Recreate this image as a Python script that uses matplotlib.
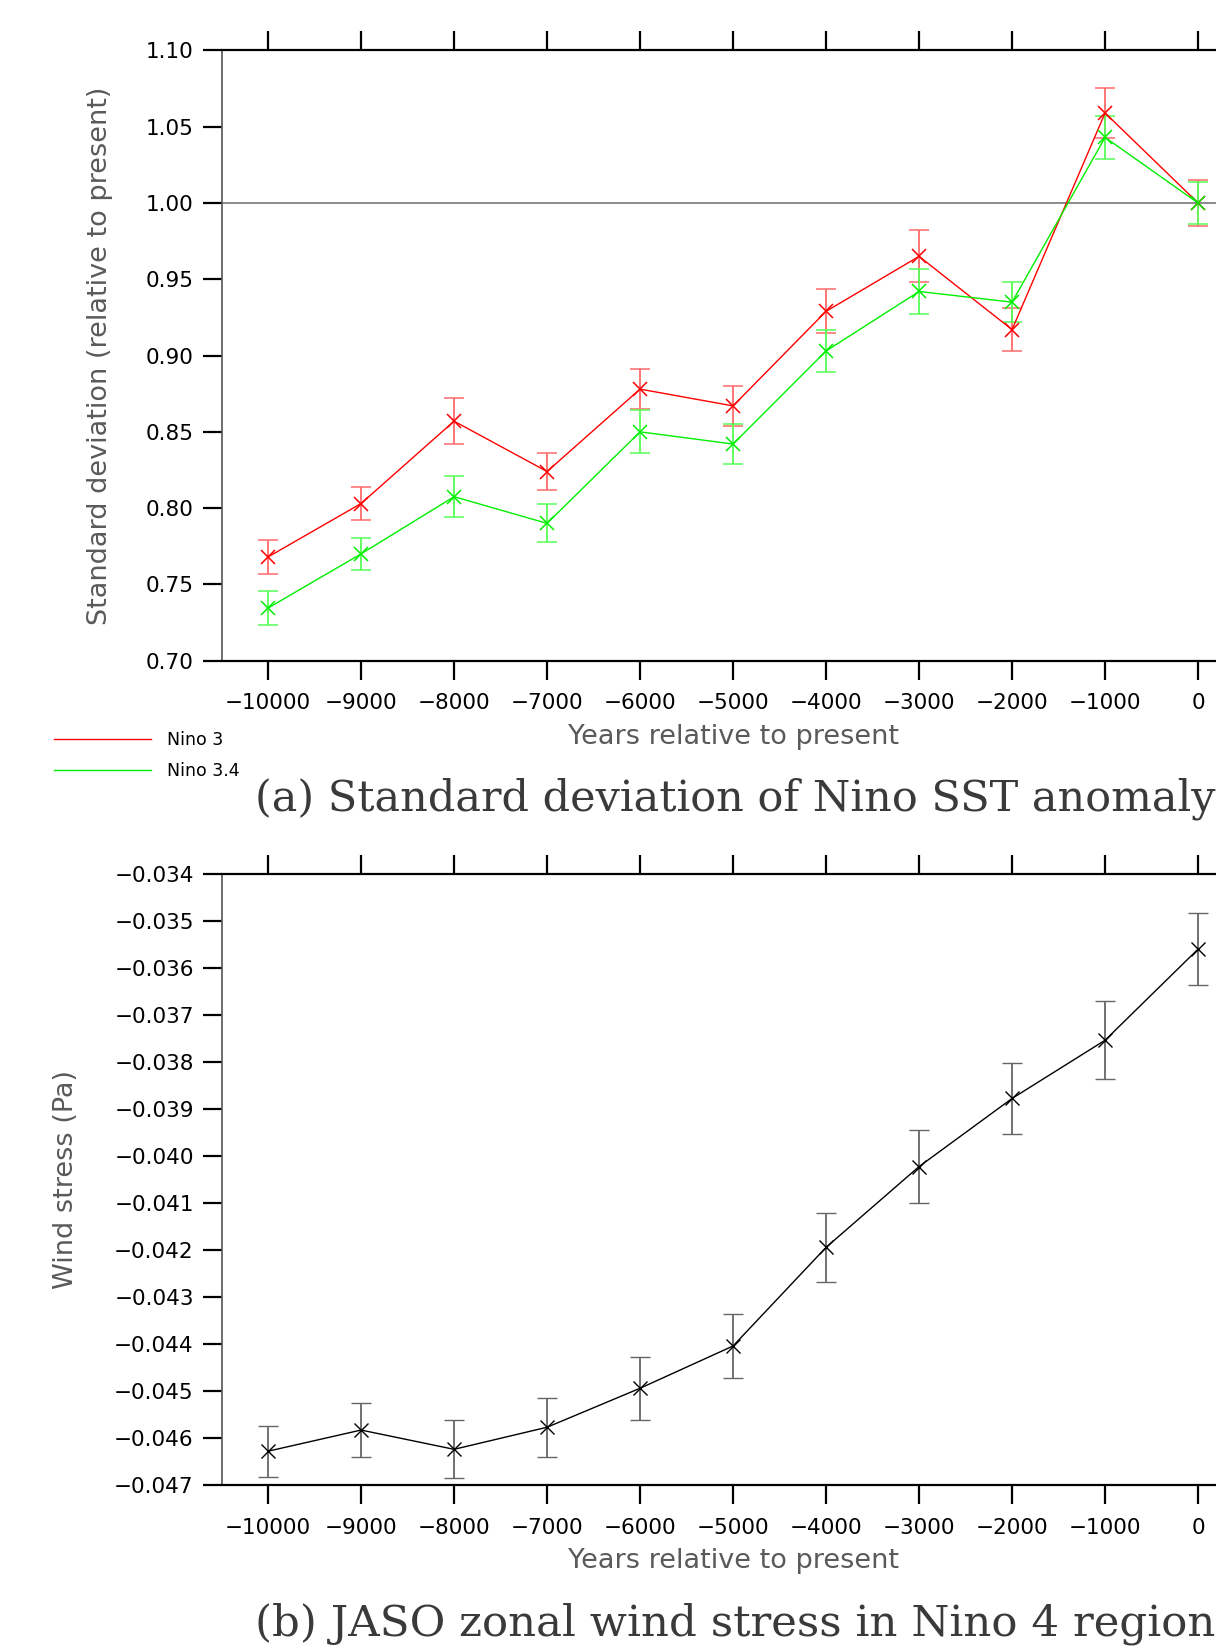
import numpy as np
import matplotlib
matplotlib.use('Agg')
import matplotlib.pyplot as plt
from matplotlib.lines import Line2D

# data
years = [-10000, -9000, -8000, -7000, -6000, -5000, -4000, -3000, -2000, -1000, 0]
xtick_labels = ['\u221210000', '\u22129000', '\u22128000', '\u22127000', '\u22126000',
                '\u22125000', '\u22124000', '\u22123000', '\u22122000', '\u22121000', '0']

nino3 = [0.768, 0.803, 0.857, 0.824, 0.878, 0.867, 0.929, 0.965, 0.917, 1.059, 1.000]
nino3_err = [0.011, 0.011, 0.015, 0.012, 0.013, 0.013, 0.0145, 0.017, 0.014, 0.0165, 0.015]
nino34 = [0.7345, 0.770, 0.8075, 0.790, 0.850, 0.842, 0.903, 0.942, 0.935, 1.043, 1.000]
nino34_err = [0.011, 0.0105, 0.0135, 0.0125, 0.014, 0.013, 0.0135, 0.015, 0.013, 0.014, 0.014]
sd_ticks = [0.70, 0.75, 0.80, 0.85, 0.90, 0.95, 1.00, 1.05, 1.10]
sd_tick_labels = ['0.70', '0.75', '0.80', '0.85', '0.90', '0.95', '1.00', '1.05', '1.10']

wind = [-0.04628, -0.04583, -0.04624, -0.04577, -0.04494, -0.04404,
        -0.04194, -0.04022, -0.03877, -0.03753, -0.03559]
wind_err = [0.00054, 0.00058, 0.00062, 0.00063, 0.00067, 0.00068,
            0.00073, 0.00077, 0.00075, 0.00083, 0.00077]
ws_ticks = [-0.047, -0.046, -0.045, -0.044, -0.043, -0.042, -0.041,
            -0.040, -0.039, -0.038, -0.037, -0.036, -0.035, -0.034]
ws_tick_labels = ['\u22120.047', '\u22120.046', '\u22120.045', '\u22120.044', '\u22120.043',
                  '\u22120.042', '\u22120.041', '\u22120.040', '\u22120.039', '\u22120.038',
                  '\u22120.037', '\u22120.036', '\u22120.035', '\u22120.034']

plt.rcParams['font.family'] = ['DejaVu Sans']

fig = plt.figure(figsize=(12.16, 16.48), dpi=100)
ax1 = fig.add_axes([0.1822, 0.5991, 0.8413, 0.3703])
ax2 = fig.add_axes([0.1822, 0.0989, 0.8413, 0.3705])

label_gray = '#5a5a5a'


def style_axes(ax):
    ax.set_xlim(-10500, 500)
    ax.set_xticks(years)
    ax.set_xticklabels(xtick_labels, fontsize=15.5)
    ax.spines['right'].set_visible(False)
    ax.spines['top'].set_linewidth(1.6)
    ax.spines['bottom'].set_linewidth(1.6)
    ax.spines['left'].set_linewidth(1.2)
    ax.spines['left'].set_color('#555555')
    ax.tick_params(axis='x', which='both', direction='out', length=14, width=1.6,
                   top=True, labeltop=False, pad=9.5)
    ax.tick_params(axis='y', direction='out', length=14, width=1.6, pad=6,
                   labelsize=15.5, right=False)
    ax.set_xlabel('Years relative to present', fontsize=19.5, color=label_gray)
    ax.xaxis.label.set_va('center')
    ax.xaxis.set_label_coords(0.5, -0.125)


# (a) standard deviation
ax1.axhline(1.0, color='#777777', lw=1.2, zorder=1)
ax1.errorbar(years, nino3, yerr=nino3_err, color='#ff0000', ecolor='#ff6a6a',
             elinewidth=1.3, capsize=7.5, capthick=1.1, marker='x', markersize=9.5,
             mew=1.1, lw=1.0, zorder=3)
ax1.errorbar(years, nino34, yerr=nino34_err, color='#00ee00', ecolor='#55ff55',
             elinewidth=1.3, capsize=7.5, capthick=1.1, marker='x', markersize=9.5,
             mew=1.1, lw=1.0, zorder=3)
ax1.set_ylim(0.70, 1.10)
ax1.set_yticks(sd_ticks)
ax1.set_yticklabels(sd_tick_labels)
style_axes(ax1)
ax1.set_ylabel('Standard deviation (relative to present)', fontsize=19.5, color=label_gray)
ax1.yaxis.set_label_coords(-0.1066, 0.5)

handles = [Line2D([], [], color='#ff0000', lw=1.0), Line2D([], [], color='#00ee00', lw=1.0)]
fig.legend(handles, ['Nino 3', 'Nino 3.4'], loc='upper left',
           bbox_to_anchor=(0.037, 0.5615), frameon=False, fontsize=12.5,
           handlelength=5.6, handletextpad=0.9, labelspacing=0.75, borderpad=0)

fig.text(0.2097, 0.5152, '(a) Standard deviation of Nino SST anomaly',
         family='DejaVu Serif', fontsize=31, color='#3a3a3a', ha='left', va='center')

# (b) wind stress
ax2.errorbar(years, wind, yerr=wind_err, color='black', ecolor='#666666',
             elinewidth=1.3, capsize=7.5, capthick=1.1, marker='x', markersize=9.5,
             mew=1.0, lw=1.0, zorder=3)
ax2.set_ylim(-0.047, -0.034)
ax2.set_yticks(ws_ticks)
ax2.set_yticklabels(ws_tick_labels)
style_axes(ax2)
ax2.set_ylabel('Wind stress (Pa)', fontsize=19.5, color=label_gray)
ax2.yaxis.set_label_coords(-0.1393, 0.5)

fig.text(0.2097, 0.0146, '(b) JASO zonal wind stress in Nino 4 region',
         family='DejaVu Serif', fontsize=31.3, color='#3a3a3a', ha='left', va='center')

fig.savefig('out.png', dpi=100)
